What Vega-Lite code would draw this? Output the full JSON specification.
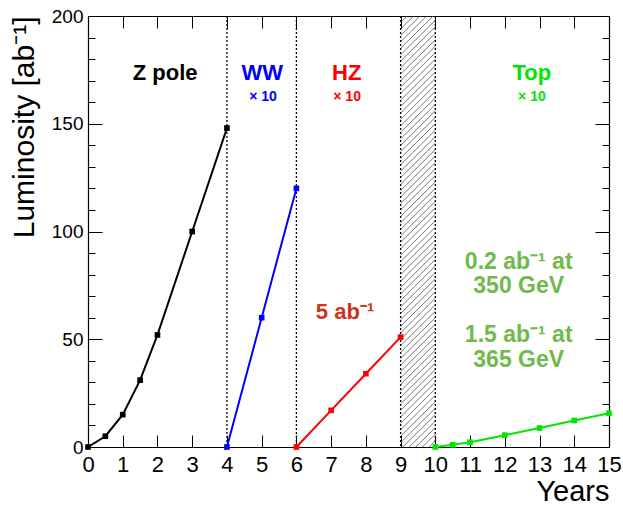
{
  "$schema": "https://vega.github.io/schema/vega-lite/v6.json",
  "autosize": "none",
  "width": 521,
  "height": 431,
  "padding": {"left": 88, "top": 16, "right": 14, "bottom": 58},
  "background": "white",
  "config": {
    "view": {"stroke": null},
    "font": "Liberation Sans",
    "axis": {"grid": false, "domainColor": "black", "tickColor": "black", "labelColor": "black", "titleColor": "black", "domainWidth": 1.2, "tickWidth": 1, "labelFont": "Liberation Sans", "titleFont": "Liberation Sans", "titleFontWeight": "normal", "labelOverlap": false, "labelFlush": false}
  },
  "resolve": {"axis": {"x": "independent", "y": "independent"}},
  "datasets": {
    "series": [
      {"year": 0, "lumi": 0, "phase": "Z"},
      {"year": 0.5, "lumi": 5, "phase": "Z"},
      {"year": 1, "lumi": 15, "phase": "Z"},
      {"year": 1.5, "lumi": 31, "phase": "Z"},
      {"year": 2, "lumi": 52, "phase": "Z"},
      {"year": 3, "lumi": 100, "phase": "Z"},
      {"year": 4, "lumi": 148, "phase": "Z"},
      {"year": 4, "lumi": 0, "phase": "WW"},
      {"year": 5, "lumi": 60, "phase": "WW"},
      {"year": 6, "lumi": 120, "phase": "WW"},
      {"year": 6, "lumi": 0, "phase": "HZ"},
      {"year": 7, "lumi": 17, "phase": "HZ"},
      {"year": 8, "lumi": 34, "phase": "HZ"},
      {"year": 9, "lumi": 51, "phase": "HZ"},
      {"year": 10, "lumi": 0, "phase": "Top"},
      {"year": 10.5, "lumi": 1, "phase": "Top"},
      {"year": 11, "lumi": 2.2, "phase": "Top"},
      {"year": 12, "lumi": 5.5, "phase": "Top"},
      {"year": 13, "lumi": 8.8, "phase": "Top"},
      {"year": 14, "lumi": 12.3, "phase": "Top"},
      {"year": 15, "lumi": 15.7, "phase": "Top"}
    ],
    "hatch": [
      {"h": -16, "h2": 0}, {"h": -13, "h2": 3}, {"h": -10, "h2": 6}, {"h": -7, "h2": 9}, {"h": -4, "h2": 12},
      {"h": -1, "h2": 15}, {"h": 2, "h2": 18}, {"h": 5, "h2": 21}, {"h": 8, "h2": 24}, {"h": 11, "h2": 27},
      {"h": 14, "h2": 30}, {"h": 17, "h2": 33}, {"h": 20, "h2": 36}, {"h": 23, "h2": 39}, {"h": 26, "h2": 42},
      {"h": 29, "h2": 45}, {"h": 32, "h2": 48}, {"h": 35, "h2": 51}, {"h": 38, "h2": 54}, {"h": 41, "h2": 57},
      {"h": 44, "h2": 60}, {"h": 47, "h2": 63}, {"h": 50, "h2": 66}, {"h": 53, "h2": 69}, {"h": 56, "h2": 72},
      {"h": 59, "h2": 75}, {"h": 62, "h2": 78}, {"h": 65, "h2": 81}, {"h": 68, "h2": 84}, {"h": 71, "h2": 87},
      {"h": 74, "h2": 90}, {"h": 77, "h2": 93}, {"h": 80, "h2": 96}, {"h": 83, "h2": 99}, {"h": 86, "h2": 102},
      {"h": 89, "h2": 105}, {"h": 92, "h2": 108}, {"h": 95, "h2": 111}, {"h": 98, "h2": 114}, {"h": 101, "h2": 117},
      {"h": 104, "h2": 120}, {"h": 107, "h2": 123}, {"h": 110, "h2": 126}, {"h": 113, "h2": 129}, {"h": 116, "h2": 132},
      {"h": 119, "h2": 135}, {"h": 122, "h2": 138}, {"h": 125, "h2": 141}, {"h": 128, "h2": 144}, {"h": 131, "h2": 147},
      {"h": 134, "h2": 150}, {"h": 137, "h2": 153}, {"h": 140, "h2": 156}, {"h": 143, "h2": 159}, {"h": 146, "h2": 162},
      {"h": 149, "h2": 165}, {"h": 152, "h2": 168}, {"h": 155, "h2": 171}, {"h": 158, "h2": 174}, {"h": 161, "h2": 177},
      {"h": 164, "h2": 180}, {"h": 167, "h2": 183}, {"h": 170, "h2": 186}, {"h": 173, "h2": 189}, {"h": 176, "h2": 192},
      {"h": 179, "h2": 195}, {"h": 182, "h2": 198}, {"h": 185, "h2": 201}, {"h": 188, "h2": 204}, {"h": 191, "h2": 207},
      {"h": 194, "h2": 210}, {"h": 197, "h2": 213}, {"h": 200, "h2": 216}
    ]
  },
  "layer": [
    {
      "data": {"name": "hatch"},
      "mark": {"type": "rule", "clip": true, "color": "#555555", "strokeWidth": 0.8},
      "encoding": {
        "x": {"datum": 9, "type": "quantitative", "scale": {"domain": [0, 15], "nice": false, "zero": false},
          "axis": {"orient": "top", "values": [0,1,2,3,4,5,6,7,8,9,10,11,12,13,14,15], "tickSize": -12, "labels": false, "title": null}},
        "x2": {"datum": 10},
        "y": {"field": "h", "type": "quantitative", "scale": {"domain": [0, 200], "nice": false, "zero": false},
          "axis": {"orient": "right", "values": [0,10,20,30,40,50,60,70,80,90,100,110,120,130,140,150,160,170,180,190,200],
            "tickSize": {"condition": {"test": "datum.value % 50 === 0", "value": -14}, "value": -7}, "labels": false, "title": null}},
        "y2": {"field": "h2"}
      }
    },
    {
      "data": {"values": [{"v": 4}, {"v": 6}, {"v": 9}, {"v": 10}]},
      "mark": {"type": "rule", "color": "black", "strokeWidth": 1.3, "strokeDash": [2, 2]},
      "encoding": {
        "x": {"field": "v", "type": "quantitative", "scale": {"domain": [0, 15], "nice": false, "zero": false}, "axis": null}
      }
    },
    {
      "data": {"name": "series"},
      "mark": {"type": "line", "strokeWidth": 2},
      "encoding": {
        "x": {"field": "year", "type": "quantitative", "scale": {"domain": [0, 15], "nice": false, "zero": false},
          "axis": {"orient": "bottom", "values": [0,1,2,3,4,5,6,7,8,9,10,11,12,13,14,15], "tickSize": -12, "labelFontSize": 22, "labelPadding": 19,
            "title": "Years", "titleFontSize": 29, "titleAnchor": "end", "titleAlign": "right", "titleX": 521, "titleY": 53, "titleBaseline": "alphabetic"}},
        "y": {"field": "lumi", "type": "quantitative", "scale": {"domain": [0, 200], "nice": false, "zero": false},
          "axis": {"orient": "left", "values": [0,10,20,30,40,50,60,70,80,90,100,110,120,130,140,150,160,170,180,190,200],
            "tickSize": {"condition": {"test": "datum.value % 50 === 0", "value": -14}, "value": -7},
            "labelExpr": "datum.value % 50 === 0 ? datum.label : ''", "labelFontSize": 19, "labelPadding": 19,
            "title": "Luminosity [ab⁻¹]", "titleFontSize": 30, "titleAngle": -90, "titleAlign": "right", "titleBaseline": "alphabetic", "titleX": -55, "titleY": 0}},
        "color": {"field": "phase", "type": "nominal", "scale": {"domain": ["Z", "WW", "HZ", "Top"], "range": ["#000000", "#0000ff", "#ff0000", "#00e600"]}, "legend": null},
        "detail": {"field": "phase"}
      }
    },
    {
      "data": {"name": "series"},
      "mark": {"type": "point", "shape": "square", "filled": true, "opacity": 1, "size": 32},
      "encoding": {
        "x": {"field": "year", "type": "quantitative", "scale": {"domain": [0, 15], "nice": false, "zero": false}, "axis": null},
        "y": {"field": "lumi", "type": "quantitative", "scale": {"domain": [0, 200], "nice": false, "zero": false}, "axis": null},
        "color": {"field": "phase", "type": "nominal", "scale": {"domain": ["Z", "WW", "HZ", "Top"], "range": ["#000000", "#0000ff", "#ff0000", "#00e600"]}, "legend": null}
      }
    },
    {
      "data": {"values": [
        {"x": 2.22, "y": 173.5, "t": "Z pole", "phase": "Z"},
        {"x": 5.02, "y": 173.5, "t": "WW", "phase": "WW"},
        {"x": 7.45, "y": 173.5, "t": "HZ", "phase": "HZ"},
        {"x": 12.78, "y": 173.5, "t": "Top", "phase": "Top"}
      ]},
      "mark": {"type": "text", "fontSize": 22, "fontWeight": "bold", "baseline": "middle", "align": "center"},
      "encoding": {
        "x": {"field": "x", "type": "quantitative", "scale": {"domain": [0, 15], "nice": false, "zero": false}, "axis": null},
        "y": {"field": "y", "type": "quantitative", "scale": {"domain": [0, 200], "nice": false, "zero": false}, "axis": null},
        "text": {"field": "t"},
        "color": {"field": "phase", "type": "nominal", "scale": {"domain": ["Z", "WW", "HZ", "Top"], "range": ["#000000", "#0000ff", "#ff0000", "#00e600"]}, "legend": null}
      }
    },
    {
      "data": {"values": [
        {"x": 5.04, "y": 162.4, "t": "× 10", "phase": "WW"},
        {"x": 7.46, "y": 162.4, "t": "× 10", "phase": "HZ"},
        {"x": 12.78, "y": 162.4, "t": "× 10", "phase": "Top"}
      ]},
      "mark": {"type": "text", "fontSize": 14, "fontWeight": "bold", "baseline": "middle", "align": "center"},
      "encoding": {
        "x": {"field": "x", "type": "quantitative", "scale": {"domain": [0, 15], "nice": false, "zero": false}, "axis": null},
        "y": {"field": "y", "type": "quantitative", "scale": {"domain": [0, 200], "nice": false, "zero": false}, "axis": null},
        "text": {"field": "t"},
        "color": {"field": "phase", "type": "nominal", "scale": {"domain": ["Z", "WW", "HZ", "Top"], "range": ["#000000", "#0000ff", "#ff0000", "#00e600"]}, "legend": null}
      }
    },
    {
      "data": {"values": [{"x": 7.4, "y": 62.5, "t": "5 ab⁻¹"}]},
      "mark": {"type": "text", "fontSize": 22, "fontWeight": "bold", "baseline": "middle", "align": "center", "color": "#c9361a"},
      "encoding": {
        "x": {"field": "x", "type": "quantitative", "scale": {"domain": [0, 15], "nice": false, "zero": false}, "axis": null},
        "y": {"field": "y", "type": "quantitative", "scale": {"domain": [0, 200], "nice": false, "zero": false}, "axis": null},
        "text": {"field": "t"}
      }
    },
    {
      "data": {"values": [
        {"x": 12.4, "y": 85.8, "t": "0.2 ab⁻¹ at"},
        {"x": 12.4, "y": 74.6, "t": "350 GeV"},
        {"x": 12.4, "y": 52, "t": "1.5 ab⁻¹ at"},
        {"x": 12.4, "y": 40.2, "t": "365 GeV"}
      ]},
      "mark": {"type": "text", "fontSize": 23, "fontWeight": "bold", "baseline": "middle", "align": "center", "color": "#70b94a"},
      "encoding": {
        "x": {"field": "x", "type": "quantitative", "scale": {"domain": [0, 15], "nice": false, "zero": false}, "axis": null},
        "y": {"field": "y", "type": "quantitative", "scale": {"domain": [0, 200], "nice": false, "zero": false}, "axis": null},
        "text": {"field": "t"}
      }
    }
  ]
}
